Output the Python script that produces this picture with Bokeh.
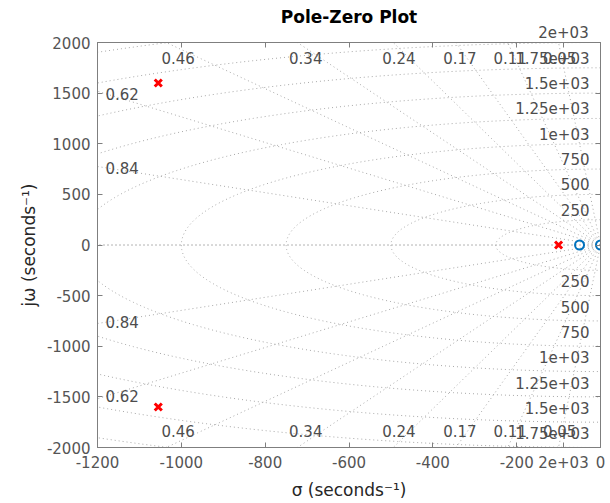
import numpy as np
from bokeh.plotting import figure
from bokeh.models import ColumnDataSource, LabelSet, LinearAxis, FixedTicker, Range1d
from bokeh.core.properties import value
from bokeh.embed import file_html
from bokeh.resources import INLINE

# ---------------- data ----------------
pole_re = [-1055.0, -1055.0, -100.0]
pole_im = [1600.0, -1600.0, 0.0]
zero_re = [-50.0, 0.0]
zero_im = [0.0, 0.0]

damping = [0.05, 0.11, 0.17, 0.24, 0.34, 0.46, 0.62, 0.84]
damping_labels = ["0.05", "0.11", "0.17", "0.24", "0.34", "0.46", "0.62", "0.84"]

nat_freq = [250, 500, 750, 1000, 1250, 1500, 1750, 2000, 2250]
nat_freq_labels = ["250", "500", "750", "1e+03", "1.25e+03", "1.5e+03",
                   "1.75e+03", "2e+03", ""]

x_ticks = [-1200, -1000, -800, -600, -400, -200, 0]
x_tick_labels = ["-1200", "-1000", "-800", "-600", "-400", "-200", "0"]
y_ticks = [-2000, -1500, -1000, -500, 0, 500, 1000, 1500, 2000]
y_tick_labels = ["-2000", "-1500", "-1000", "-500", "0", "500", "1000", "1500", "2000"]

X_MIN, X_MAX = -1200, 0
Y_MIN, Y_MAX = -2000, 2000

# ---------------- style ----------------
FONT = "DejaVu Sans"
TICK_TEXT = "#555555"
LABEL_TEXT = "#262626"
GRID_COLOR = "#a8a8a8"
FRAME_COLOR = "#7f7f7f"
GRID_TEXT = "#4d4d4d"
PX_PER_X = 503.0 / (X_MAX - X_MIN)

p = figure(width=610, height=503,
           x_range=Range1d(X_MIN, X_MAX), y_range=Range1d(Y_MIN, Y_MAX),
           output_backend="svg", toolbar_location=None,
           title="Pole-Zero Plot",
           min_border_left=97, min_border_right=10,
           min_border_top=42, min_border_bottom=56)
p.background_fill_color = "white"
p.border_fill_color = "white"
p.outline_line_color = FRAME_COLOR
p.xgrid.visible = False
p.ygrid.visible = False

# ---------------- s-plane grid ----------------
R = 8000.0
xs, ys = [], []
for z in [1.0] + damping:
    w = np.sqrt(1.0 - z * z)
    for s in (1.0, -1.0):
        xs.append([0.0, -z * R])
        ys.append([0.0, s * w * R])
theta = np.linspace(np.pi / 2, 3 * np.pi / 2, 361)
for r in nat_freq:
    xs.append(list(r * np.cos(theta)))
    ys.append(list(r * np.sin(theta)))
p.multi_line(xs, ys, line_color=GRID_COLOR, line_dash="1 3", line_width=1)

# damping labels (placed where each ray leaves the box)
top_x, top_y, top_t = [], [], []
left_x, left_y, left_t = [], [], []
for z, lab in zip(damping, damping_labels):
    w = np.sqrt(1.0 - z * z)
    xt = -z / w * (Y_MAX - 55)
    if xt > X_MIN + 19:
        top_x += [xt, xt]
        top_y += [Y_MAX - 150, Y_MIN + 160]
        top_t += [lab, lab]
    else:
        yl = (-(X_MIN + 19)) * w / z
        left_x += [X_MIN + 19, X_MIN + 19]
        left_y += [yl, -yl]
        left_t += [lab, lab]

common = dict(text_font=value(FONT), text_font_size="15px", text_color=GRID_TEXT)
p.add_layout(LabelSet(x="x", y="y", text="t",
                      source=ColumnDataSource(dict(x=top_x, y=top_y, t=top_t)),
                      text_align="center", text_baseline="middle", **common))
p.add_layout(LabelSet(x="x", y="y", text="t",
                      source=ColumnDataSource(dict(x=left_x, y=left_y, t=left_t)),
                      text_align="left", text_baseline="middle", **common))

# natural frequency labels along the imaginary axis (inside the box)
fl = [(r, t) for r, t in zip(nat_freq, nat_freq_labels) if t and r < Y_MAX]
up = ColumnDataSource(dict(x=[X_MAX] * len(fl), y=[r for r, _ in fl], t=[t for _, t in fl]))
dn = ColumnDataSource(dict(x=[X_MAX] * len(fl), y=[-r for r, _ in fl], t=[t for _, t in fl]))
p.add_layout(LabelSet(x="x", y="y", text="t", source=up, x_offset=-11, y_offset=4,
                      text_align="right", text_baseline="bottom", **common))
p.add_layout(LabelSet(x="x", y="y", text="t", source=dn, x_offset=-11, y_offset=-5,
                      text_align="right", text_baseline="top", **common))

# the label of the circle on the box edge sits outside the frame: show it
# through the top / bottom axes
edge_label = [t for r, t in zip(nat_freq, nat_freq_labels) if r == Y_MAX][0]
edge_x = X_MAX - 37.0 / PX_PER_X   # label centre, 37 px left of the right edge

# ---------------- poles and zeros ----------------
p.scatter(pole_re, pole_im, marker="x", size=10, line_color="#ff0000", line_width=3)
p.scatter(zero_re, zero_im, marker="circle", size=9, fill_color=None,
          line_color="#0072bd", line_width=2)

# ---------------- axes ----------------
xo = {t: l for t, l in zip(x_ticks, x_tick_labels)}
xo[edge_x] = edge_label
p.xaxis.ticker = FixedTicker(ticks=x_ticks + [edge_x])
p.xaxis.major_label_overrides = xo
p.yaxis.ticker = FixedTicker(ticks=y_ticks)
p.yaxis.major_label_overrides = {t: l for t, l in zip(y_ticks, y_tick_labels)}
p.xaxis.axis_label = "σ (seconds⁻¹)"
p.yaxis.axis_label = "jω (seconds⁻¹)"
for ax in (p.xaxis[0], p.yaxis[0]):
    ax.major_tick_in = 5
    ax.major_tick_out = 0
    ax.minor_tick_line_color = None
    ax.axis_line_color = FRAME_COLOR
    ax.major_tick_line_color = FRAME_COLOR
    ax.major_label_text_font = FONT
    ax.major_label_text_font_size = "15px"
    ax.major_label_text_color = TICK_TEXT
    ax.axis_label_text_font = FONT
    ax.axis_label_text_font_size = "17px"
    ax.axis_label_text_font_style = "normal"
    ax.axis_label_text_color = LABEL_TEXT
p.xaxis.major_label_standoff = 8
p.yaxis.major_label_standoff = 7
p.xaxis.axis_label_standoff = 9
p.yaxis.axis_label_standoff = 5

to = {t: "" for t in x_ticks}
to[edge_x] = edge_label
top_ax = LinearAxis(ticker=FixedTicker(ticks=x_ticks + [edge_x]),
                    major_label_overrides=to,
                    major_label_text_font=FONT, major_label_text_font_size="15px",
                    major_label_text_color=GRID_TEXT, major_label_standoff=5,
                    major_tick_in=5, major_tick_out=0, minor_tick_line_color=None,
                    axis_line_color=FRAME_COLOR, major_tick_line_color=FRAME_COLOR)
right_ax = LinearAxis(ticker=FixedTicker(ticks=y_ticks),
                      major_label_overrides={t: "" for t in y_ticks},
                      major_label_text_font_size="1px", major_label_standoff=0,
                      major_tick_in=5, major_tick_out=0, minor_tick_line_color=None,
                      axis_line_color=FRAME_COLOR, major_tick_line_color=FRAME_COLOR)
p.add_layout(top_ax, "above")
p.add_layout(right_ax, "right")

p.title.text_font = FONT
p.title.text_font_size = "17px"
p.title.text_font_style = "bold"
p.title.text_color = "black"
p.title.align = "center"
p.title.standoff = -8

open("out.html", "w").write(file_html(p, INLINE))
